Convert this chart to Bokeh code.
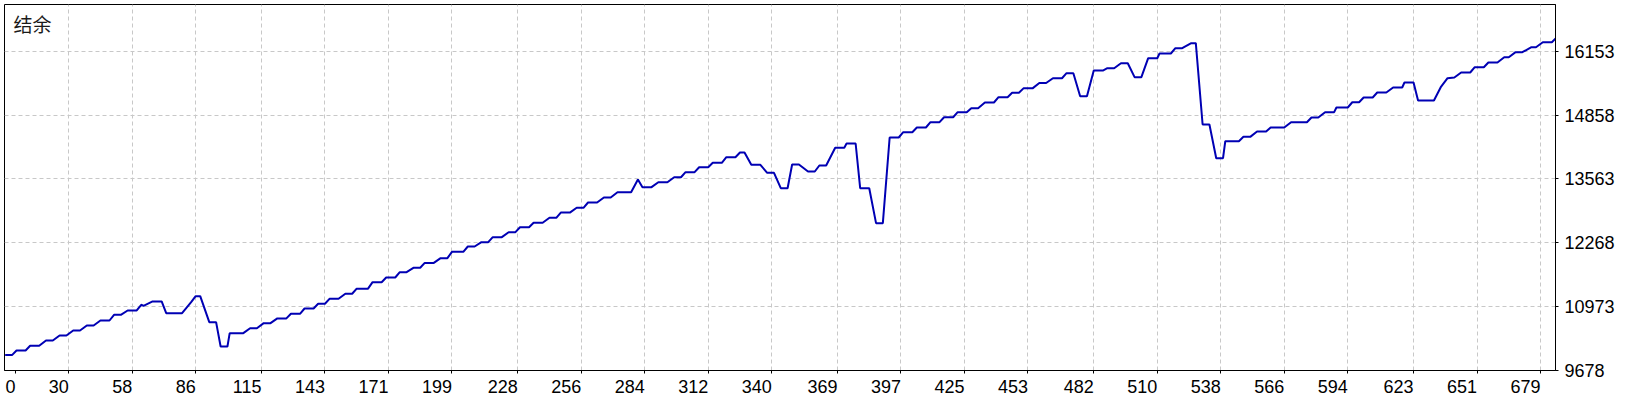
from bokeh.plotting import figure
from bokeh.models import Range1d, FixedTicker, Label
from bokeh.embed import file_html
from bokeh.resources import INLINE

# ---- data (trade number, balance) ----
trade_idx = [2, 5, 7, 11, 13, 17, 20, 23, 26, 29, 32, 35, 38, 41, 44, 48, 50, 53, 56, 60,
             62, 63, 67, 71, 73, 80, 84, 86, 88, 92, 95, 97, 100, 101, 107, 110, 113, 116, 119, 122,
             126, 128, 132, 134, 138, 140, 143, 145, 149, 152, 155, 157, 162, 164, 168, 170, 174, 176, 179, 182,
             185, 187, 191, 194, 197, 199, 204, 206, 209, 212, 215, 217, 221, 224, 227, 229, 233, 235, 239, 242,
             245, 247, 251, 254, 257, 259, 263, 266, 269, 272, 278, 281, 283, 287, 290, 294, 297, 300, 302, 306,
             308, 312, 314, 318, 320, 324, 326, 328, 331, 335, 338, 341, 344, 347, 349, 352, 356, 359, 361, 364,
             368, 372, 373, 377, 379, 383, 386, 389, 392, 396, 398, 402, 404, 408, 410, 414, 416, 420, 422, 426,
             428, 431, 434, 438, 440, 444, 446, 449, 451, 455, 458, 461, 464, 468, 470, 473, 476, 479, 482, 486,
             488, 491, 494, 497, 500, 503, 506, 510, 511, 516, 518, 521, 525, 527, 530, 533, 536, 539, 540, 546,
             548, 551, 554, 558, 560, 566, 569, 576, 578, 581, 584, 588, 589, 594, 596, 599, 601, 605, 607, 611,
             614, 618, 619, 623, 625, 632, 635, 638, 641, 644, 648, 650, 654, 656, 660, 663, 665, 668, 671, 675,
             677, 680, 684, 686]
balance = [9990, 9990, 10084, 10084, 10179, 10179, 10287, 10287, 10388, 10388, 10490, 10490, 10591, 10591, 10692, 10692, 10808, 10808, 10895, 10895,
           11011, 10990, 11078, 11078, 10840, 10840, 11063, 11185, 11185, 10658, 10658, 10165, 10165, 10435, 10435, 10536, 10536, 10638, 10638, 10735,
           10735, 10828, 10828, 10935, 10935, 11031, 11031, 11132, 11132, 11234, 11234, 11338, 11338, 11469, 11469, 11564, 11564, 11672, 11672, 11761,
           11761, 11860, 11860, 11956, 11956, 12085, 12085, 12193, 12193, 12280, 12280, 12382, 12382, 12483, 12483, 12584, 12584, 12674, 12674, 12775,
           12775, 12880, 12880, 12978, 12978, 13085, 13085, 13187, 13187, 13294, 13294, 13552, 13396, 13396, 13497, 13497, 13598, 13598, 13700, 13700,
           13801, 13801, 13891, 13891, 14004, 14004, 14100, 14100, 13850, 13850, 13688, 13688, 13375, 13375, 13856, 13856, 13714, 13714, 13836, 13836,
           14195, 14195, 14282, 14282, 13375, 13375, 12666, 12666, 14404, 14404, 14511, 14511, 14606, 14606, 14714, 14714, 14815, 14815, 14917, 14917,
           14998, 14998, 15113, 15113, 15221, 15221, 15310, 15310, 15400, 15400, 15509, 15509, 15606, 15606, 15708, 15708, 15241, 15241, 15762, 15762,
           15809, 15809, 15910, 15910, 15627, 15627, 16012, 16012, 16107, 16107, 16215, 16215, 16316, 16316, 14667, 14667, 13984, 13984, 14329, 14329,
           14417, 14417, 14525, 14525, 14606, 14606, 14714, 14714, 14809, 14809, 14917, 14917, 15012, 15012, 15119, 15119, 15215, 15215, 15316, 15316,
           15418, 15418, 15519, 15519, 15154, 15154, 15424, 15606, 15620, 15722, 15722, 15829, 15829, 15925, 15925, 16032, 16032, 16134, 16134, 16235,
           16235, 16336, 16336, 16426]

x_tick_labels = ["0", "30", "58", "86", "115", "143", "171", "199", "228", "256", "284", "312",
                 "340", "369", "397", "425", "453", "482", "510", "538", "566", "594", "623", "651", "679"]
y_tick_values = [9678, 10973, 12268, 13563, 14858, 16153]
title_text = "结余"

x_start, x_end = 1.7, 685.6
y_start, y_end = 9678, 17101

FONT = "Liberation Sans"
FONT_SIZE = "18px"

p = figure(frame_width=1551, frame_height=366,
           x_range=Range1d(x_start, x_end), y_range=Range1d(y_start, y_end),
           output_backend="svg", toolbar_location=None,
           x_axis_location="below", y_axis_location="right",
           min_border_left=4, min_border_top=4, min_border_right=0, min_border_bottom=0)

p.background_fill_color = "white"
p.border_fill_color = "white"
p.outline_line_color = "black"
p.outline_line_width = 1
p.outline_line_alpha = 1

# x axis: labels end at their tick (right aligned); "0" sits just inside the left edge
x_values = [float(s) for s in x_tick_labels[1:]]
x_positions = [6.5] + x_values
p.xaxis.ticker = FixedTicker(ticks=x_positions, minor_ticks=[])
p.xaxis.major_label_overrides = {6.5: "0"}
p.xaxis.major_label_orientation = 0.0001
p.yaxis.ticker = FixedTicker(ticks=y_tick_values, minor_ticks=[])

for ax in (p.xaxis[0], p.yaxis[0]):
    ax.axis_line_color = "black"
    ax.major_tick_line_color = "black"
    ax.major_tick_out = 3
    ax.major_tick_in = 0
    ax.minor_tick_line_color = None
    ax.major_label_text_font = FONT
    ax.major_label_text_font_size = FONT_SIZE
    ax.major_label_text_color = "black"
    ax.major_label_standoff = 6
p.xaxis.major_label_standoff = 13

p.xgrid.ticker = FixedTicker(ticks=x_values)
p.ygrid.ticker = FixedTicker(ticks=y_tick_values[1:])
for g in (p.xgrid[0], p.ygrid[0]):
    g.grid_line_color = "#c8c8c8"
    g.grid_line_dash = "4 3"
    g.grid_line_width = 1

p.line(trade_idx, balance, line_color="#0000b4", line_width=2)

p.add_layout(Label(x=9, y=361, x_units="screen", y_units="screen", text=title_text,
                   text_font="Noto Sans CJK SC", text_font_size="19px",
                   text_color="#1a1a1a", text_baseline="top", text_align="left"))

open("out.html", "w").write(file_html(p, INLINE))
